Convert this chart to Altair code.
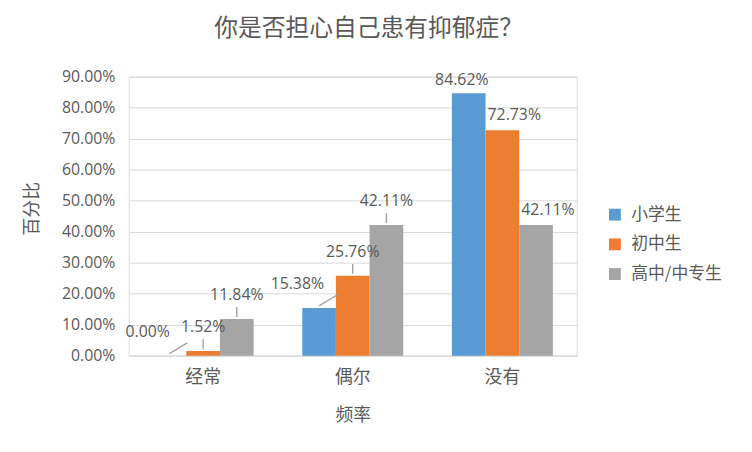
import altair as alt
import pandas as pd

categories = ["经常", "偶尔", "没有"]
series = ["小学生", "初中生", "高中/中专生"]
primary = [0.0, 15.38, 84.62]
junior = [1.52, 25.76, 72.73]
senior = [11.84, 42.11, 42.11]
colors = ["#5B9BD5", "#ED7D31", "#A5A5A5"]
tick_values = [0.0, 0.1, 0.2, 0.3, 0.4, 0.5, 0.6, 0.7, 0.8, 0.9]

rows = []
for i, c in enumerate(categories):
    for s, vals in zip(series, [primary, junior, senior]):
        rows.append({"频率": c, "组别": s, "值": vals[i] / 100})
df = pd.DataFrame(rows)

CJK = "Noto Sans CJK SC"
NUM = "Open Sans"
TXT = "#595959"

x = alt.X("频率:N", sort=categories,
          scale=alt.Scale(paddingInner=0.325, paddingOuter=0.16),
          axis=alt.Axis(title="频率", labelAngle=0, labelFont=CJK, labelFontSize=18,
                        labelColor=TXT, labelPadding=13, ticks=False, tickSize=0,
                        domainColor="#D9D9D9", domainWidth=1, grid=False,
                        titleFont=CJK, titleFontSize=18, titleColor=TXT,
                        titleFontWeight="normal", titleY=61, titleBaseline="middle"))
xo = alt.XOffset("组别:N", sort=series, scale=alt.Scale(paddingInner=0, paddingOuter=0))
y = alt.Y("值:Q", scale=alt.Scale(domain=[0, 0.9], nice=False),
          axis=alt.Axis(title="百分比", format=".2%", values=tick_values,
                        labelOverlap=False,
                        labelFont=NUM, labelFontSize=16, labelColor=TXT, labelPadding=14,
                        ticks=False, domain=False, gridColor="#D9D9D9", gridWidth=1,
                        titleFont=CJK, titleFontSize=18, titleColor=TXT,
                        titleFontWeight="normal", titleX=-97, titleY=133,
                        titleAngle=270, titleAlign="center", titleBaseline="middle"))
color = alt.Color("组别:N", sort=series, scale=alt.Scale(domain=series, range=colors),
                  legend=alt.Legend(title=None, orient="none", legendX=483, legendY=131,
                                    symbolType="square", symbolSize=144, symbolStrokeWidth=0,
                                    labelFont=CJK, labelFontSize=17, labelColor=TXT,
                                    rowPadding=12, labelOffset=8, padding=0))
label_text = alt.Text("值:Q", format=".2%")

base = alt.Chart(df)
bars = base.mark_bar().encode(x=x, xOffset=xo, y=y, color=color)

crowded = base.transform_filter(alt.datum["频率"] != "没有")
crowded_blue = crowded.transform_filter(alt.datum["组别"] == "小学生")
crowded_rest = crowded.transform_filter(alt.datum["组别"] != "小学生")
open_ = base.transform_filter(alt.datum["频率"] == "没有")
open_blue = open_.transform_filter(alt.datum["组别"] == "小学生")
open_rest = open_.transform_filter(alt.datum["组别"] != "小学生")

leaders_slant = crowded_blue.mark_rule(color="#A6A6A6", strokeWidth=1.5, yOffset=-2,
                                       y2Offset=-13, x2Offset=-16).encode(
    x=x, x2="频率:N", xOffset=xo, y=y, y2="值:Q")
leaders = crowded_rest.mark_rule(color="#A6A6A6", strokeWidth=1.5, yOffset=-2, y2Offset=-12).encode(
    x=x, xOffset=xo, y=y, y2="值:Q")
labels_blue = crowded_blue.mark_text(font=NUM, fontSize=16, color=TXT, dx=-22, dy=-19,
                                     baseline="alphabetic").encode(
    x=x, xOffset=xo, y=y, text=label_text)
labels1 = crowded_rest.mark_text(font=NUM, fontSize=16, color=TXT, dy=-19, baseline="alphabetic").encode(
    x=x, xOffset=xo, y=y, text=label_text)
labels2 = open_blue.mark_text(font=NUM, fontSize=16, color=TXT, dx=-7, dy=-8,
                              baseline="alphabetic").encode(
    x=x, xOffset=xo, y=y, text=label_text)
labels3 = open_rest.mark_text(font=NUM, fontSize=16, color=TXT, dx=12, dy=-10,
                              baseline="alphabetic").encode(
    x=x, xOffset=xo, y=y, text=label_text)

chart = alt.layer(bars, leaders_slant, leaders, labels_blue, labels1, labels2, labels3).properties(
    width=453, height=282,
    autosize=alt.AutoSizeParams(type="none"),
    padding={"left": 122, "top": 67, "right": 169, "bottom": 95},
    title=alt.TitleParams("你是否担心自己患有抑郁症？", font=CJK, fontSize=24, color=TXT,
                          fontWeight="normal", anchor="middle", dx=16, offset=28),
).configure_view(stroke=None).configure(background="white")

chart.save("out.html", embed_options={"renderer": "svg", "actions": False})
